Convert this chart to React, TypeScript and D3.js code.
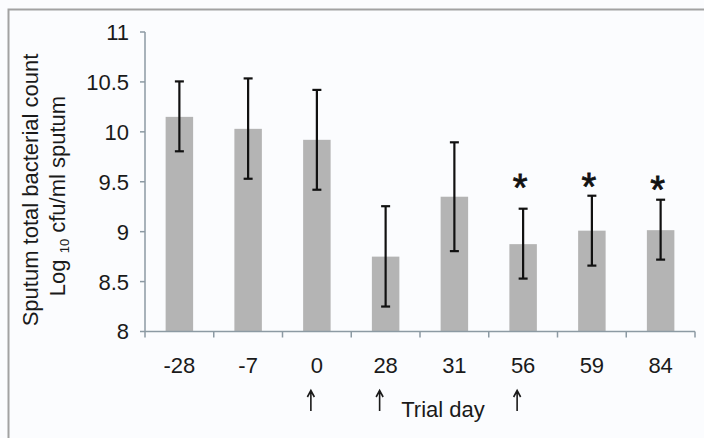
import React from "react";
import * as d3 from "d3";

const days = ["-28", "-7", "0", "28", "31", "56", "59", "84"];
const means = [10.15, 10.03, 9.92, 8.75, 9.35, 8.875, 9.01, 9.015];
const upper = [10.505, 10.535, 10.42, 9.255, 9.895, 9.23, 9.36, 9.32];
const lower = [9.805, 9.53, 9.42, 8.25, 8.805, 8.53, 8.66, 8.72];
const starred = ["56", "59", "84"];
const starLevel = [9.5, 9.51, 9.48];
const arrowed = ["0", "28", "56"];
const yTicks = [8, 8.5, 9, 9.5, 10, 10.5, 11];

const W = 704;
const H = 438;
const font = "'Liberation Sans', Arial, sans-serif";

const App = () => {
    const x = d3.scaleBand().domain(days).range([145, 695]).paddingInner(0.6).paddingOuter(0.3);
    const step = x.step();
    const y = d3.scaleLinear().domain([8, 11]).range([331.5, 32]);
    const cx = (d: string) => (x(d) ?? 0) + x.bandwidth() / 2;
    const bounds = d3.range(days.length + 1).map(i => 145 + i * step);

    return (
        <svg width={W} height={H} style={{ position: "absolute", left: 0, top: 0 }} fontFamily={font}>
            <rect width={W} height={H} fill="#fbfcfe" />
            <path d={`M8.5,${H} V9.5 H${W}`} fill="none" stroke="#a2a2a2" strokeWidth={2} />

            {/* bars */}
            {days.map((d, i) => (
                <rect key={d} x={x(d)} y={y(means[i])} width={x.bandwidth()} height={y(8) - y(means[i])} fill="#b4b4b4" />
            ))}

            {/* axes */}
            <g stroke="#8c9aa3" strokeWidth={1.5} fill="none">
                <line x1={145} x2={145} y1={y(11)} y2={y(8)} />
                <line x1={145} x2={695} y1={y(8)} y2={y(8)} />
                {yTicks.map(t => (
                    <line key={t} x1={140} x2={145} y1={y(t)} y2={y(t)} />
                ))}
                {bounds.map(b => (
                    <line key={b} x1={b} x2={b} y1={y(8)} y2={y(8) + 6} />
                ))}
            </g>
            {yTicks.map(t => (
                <text key={t} x={129} y={y(t)} dy="0.36em" textAnchor="end" fontSize={22} fill="#1a1a1a">{String(t)}</text>
            ))}
            {days.map(d => (
                <text key={d} x={cx(d)} y={373} textAnchor="middle" fontSize={22} fill="#1a1a1a">{d}</text>
            ))}

            {/* error bars */}
            <g stroke="#111" strokeWidth={2.2}>
                {days.map((d, i) => (
                    <g key={d}>
                        <line x1={cx(d)} x2={cx(d)} y1={y(upper[i])} y2={y(lower[i])} />
                        <line x1={cx(d) - 4.5} x2={cx(d) + 4.5} y1={y(upper[i])} y2={y(upper[i])} />
                        <line x1={cx(d) - 4.5} x2={cx(d) + 4.5} y1={y(lower[i])} y2={y(lower[i])} />
                    </g>
                ))}
            </g>

            {starred.map((d, i) => (
                <text key={d} x={cx(d) - 3} y={y(starLevel[i]) + 19.5} textAnchor="middle" fontSize={38} fill="#111" stroke="#111" strokeWidth={0.8}>*</text>
            ))}
            {/* treatment arrows */}
            <g stroke="#1a1a1a" strokeWidth={1.6} fill="none">
                {arrowed.map(d => {
                    const ax = cx(d) - 6;
                    return (
                        <path key={d} d={`M${ax},411 V391 M${ax - 3.5},397 L${ax},390.5 L${ax + 3.5},397`} />
                    );
                })}
            </g>

            <text x={443} y={417} textAnchor="middle" fontSize={22} fill="#1a1a1a">Trial day</text>

            <g transform="translate(38,190) rotate(-90)">
                <text textAnchor="middle" fontSize={22} fill="#1a1a1a">Sputum total bacterial count</text>
            </g>
            <g transform="translate(65,196) rotate(-90)">
                <text textAnchor="middle" fontSize={22} fill="#1a1a1a">
                    Log <tspan fontSize={13} dy={4}>10</tspan><tspan dy={-4}> cfu/ml sputum</tspan>
                </text>
            </g>
        </svg>
    );
};

export default App;
